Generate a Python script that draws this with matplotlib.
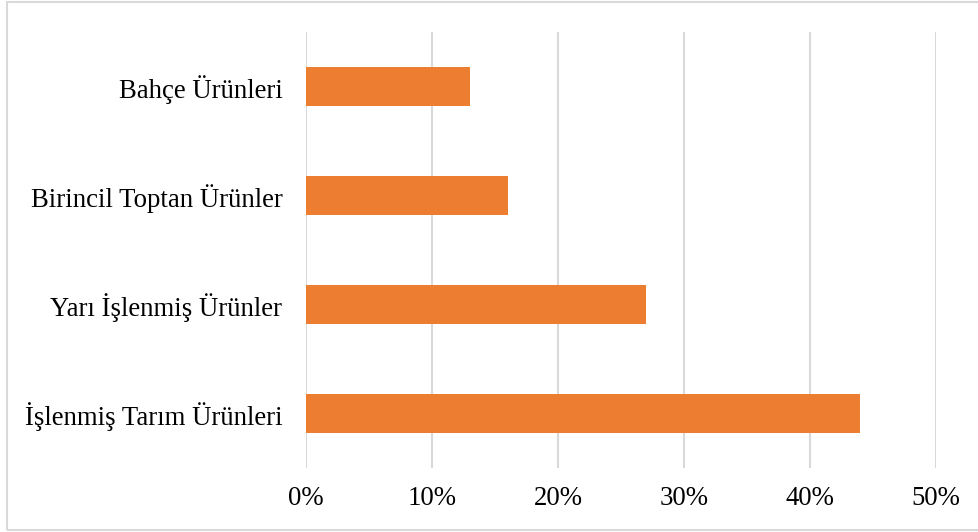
import matplotlib
matplotlib.use("Agg")
import matplotlib.pyplot as plt
from matplotlib.patches import Rectangle
from matplotlib.ticker import FuncFormatter

categories = ["İşlenmiş Tarım Ürünleri", "Yarı İşlenmiş Ürünler", "Birincil Toptan Ürünler", "Bahçe Ürünleri"]
values = [44, 27, 16, 13]
xticks = [0, 10, 20, 30, 40, 50]

plt.rcParams['font.family'] = ['Liberation Serif', 'DejaVu Serif']

fig = plt.figure(figsize=(9.79, 5.32), dpi=100)
W, H = 979, 532
ax = fig.add_axes([306 / W, 1 - 468 / H, (936 - 306) / W, (468 - 32) / H])

ypos = list(range(len(categories)))
ax.barh(ypos, values, height=0.36, color="#ED7D31", zorder=3)
ax.set_xlim(0, 50)
ax.set_ylim(-0.5, len(categories) - 0.5)
ax.set_xticks(xticks)
ax.xaxis.set_major_formatter(FuncFormatter(lambda v, p: f"{int(v)}%"))
ax.set_yticks(ypos)
ax.set_yticklabels(categories)
ax.tick_params(axis="y", length=0, pad=17, labelsize=19.3, colors="#000000")
ax.tick_params(axis="x", length=0, pad=13, labelsize=19.3, colors="#000000")
ax.grid(axis="x", color="#D9D9D9", linewidth=1.5, zorder=0)
ax.grid(axis="y", visible=False)
for s in ax.spines.values():
    s.set_visible(False)

fig.patches.append(Rectangle((7 / W, 1 - 530 / H), (W + 40) / W, (530 - 2) / H,
                             transform=fig.transFigure, fill=False,
                             edgecolor="#D9D9D9", linewidth=1.5, zorder=0,
                             clip_on=False))

fig.savefig("out.png", dpi=100)
